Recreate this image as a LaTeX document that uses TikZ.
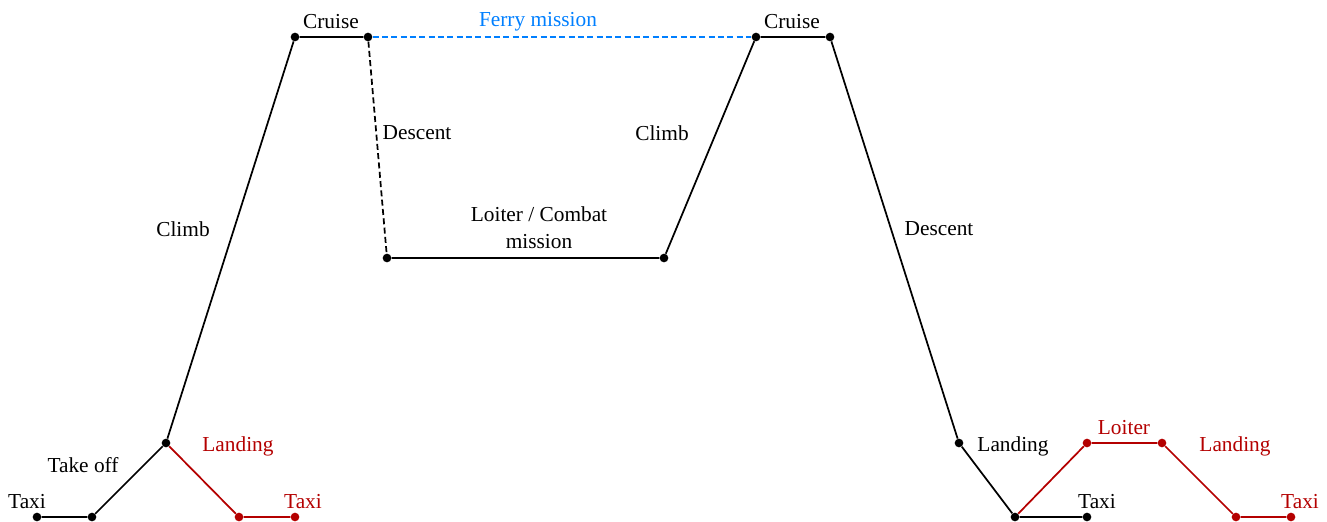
\documentclass[tikz,border=0pt]{standalone}
\usepackage{fontspec}
\setmainfont{Liberation Serif}
\usepackage{tikz}

\definecolor{lossred}{RGB}{180,0,0}
\definecolor{ferryblue}{RGB}{0,127,255}

\tikzset{
  dot/.style={circle,fill,inner sep=0pt,minimum size=6.5pt},
  seg/.style={line width=1.3pt},
  dsh/.style={dash pattern=on 4.5pt off 2.5pt},
  lbl/.style={inner sep=0.75pt,font=\fontsize{16}{20}\selectfont},
}

\begin{document}
\begin{tikzpicture}[x=0.75pt,y=0.75pt,yscale=-1,xscale=1]
\useasboundingbox (0,0) rectangle (1327,521);

%Points of the main profile
\node [dot] (taxiA) at (37,517) {};
\node [dot] (taxiB) at (92,517) {};
\node [dot] (toff) at (166,443) {};
\node [dot] (cruA) at (295,37) {};
\node [dot] (cruB) at (368,37) {};
\node [dot] (loiA) at (387,258) {};
\node [dot] (loiB) at (664,258) {};
\node [dot] (cruC) at (756,37) {};
\node [dot] (cruD) at (830,37) {};
\node [dot] (land) at (959,443) {};
\node [dot] (gnd) at (1015,517) {};
\node [dot] (taxiC) at (1087,517) {};

%Points of the abort branches
\node [dot,lossred] (abA) at (239,517) {};
\node [dot,lossred] (abB) at (295,517) {};
\node [dot,lossred] (rlA) at (1087,443) {};
\node [dot,lossred] (rlB) at (1162,443) {};
\node [dot,lossred] (rlC) at (1236,517) {};
\node [dot,lossred] (rlD) at (1291,517) {};

%Main profile
\draw [seg] (taxiA) -- (taxiB) -- (toff) -- (cruA) -- (cruB) ;
\draw [seg,dsh] (cruB) -- (loiA) ;
\draw [seg] (loiA) -- (loiB) -- (cruC) -- (cruD) -- (land) -- (gnd) -- (taxiC) ;
%Ferry
\draw [seg,ferryblue,dsh] (cruB) -- (cruC) ;
%Abort branches
\draw [seg,lossred] (toff) -- (abA) -- (abB) ;
\draw [seg,lossred] (gnd) -- (rlA) -- (rlB) -- (rlC) -- (rlD) ;

% Text Node
\node [lbl] (lTaxiA) at (27,502) {Taxi};
% Text Node
\node [lbl] (lToff) at (83,465) {Take off};
% Text Node
\node [lbl] (lClimbA) at (183,229) {Climb};
% Text Node
\node [lbl,lossred] (lLandA) at (238,446) {Landing};
% Text Node
\node [lbl,lossred] (lTaxiB) at (303,502) {Taxi};
% Text Node
\node [lbl] (lCruA) at (331,22) {Cruise};
% Text Node
\node [lbl,ferryblue] (lFerry) at (538,22) {Ferry mission};
% Text Node
\node [lbl] (lDesA) at (417,133) {Descent};
% Text Node
\node [lbl,align=center] (lLoiter) at (539,228) {Loiter / Combat\\mission};
% Text Node
\node [lbl] (lClimbB) at (662,133) {Climb};
% Text Node
\node [lbl] (lCruB) at (792,22) {Cruise};
% Text Node
\node [lbl] (lDesB) at (939,229) {Descent};
% Text Node
\node [lbl] (lLandB) at (1013,446) {Landing};
% Text Node
\node [lbl,lossred] (lLoiB) at (1124,428) {Loiter};
% Text Node
\node [lbl,lossred] (lLandC) at (1235,446) {Landing};
% Text Node
\node [lbl] (lTaxiC) at (1097,502) {Taxi};
% Text Node
\node [lbl,lossred] (lTaxiD) at (1300,502) {Taxi};

\end{tikzpicture}
\end{document}
